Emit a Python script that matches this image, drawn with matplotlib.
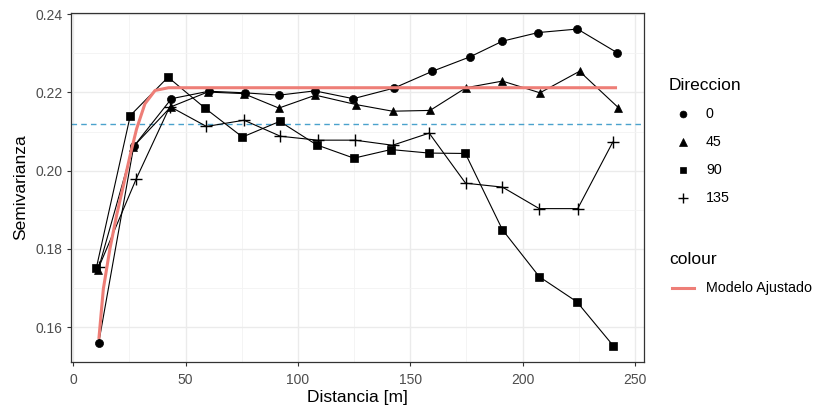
import matplotlib
matplotlib.use("Agg")
import matplotlib.pyplot as plt
from matplotlib.lines import Line2D

plt.rcParams['font.family'] = ['Liberation Sans', 'DejaVu Sans']

dist_0 = [11.3, 26.9, 43.7, 60.3, 76.3, 91.6, 107.5, 124.6, 142.7, 159.8, 176.6, 191.0, 206.9, 224.4, 242.2]
gam_0 = [0.1559, 0.2062, 0.2184, 0.2203, 0.2199, 0.2193, 0.2204, 0.2184, 0.2211, 0.2254, 0.2291, 0.2331, 0.2353, 0.2362, 0.2301]

dist_45 = [11.0, 26.5, 43.4, 59.8, 75.8, 91.5, 107.8, 125.8, 142.1, 158.8, 174.8, 191.0, 207.7, 225.3, 242.6]
gam_45 = [0.1745, 0.2060, 0.2163, 0.2201, 0.2197, 0.2160, 0.2193, 0.2169, 0.2152, 0.2154, 0.2212, 0.2229, 0.2199, 0.2254, 0.2161]

dist_90 = [10.3, 25.4, 42.2, 58.8, 75.3, 91.9, 108.3, 124.9, 141.4, 158.3, 174.5, 191.0, 207.4, 224.1, 240.4]
gam_90 = [0.1752, 0.2141, 0.2239, 0.2159, 0.2086, 0.2126, 0.2066, 0.2032, 0.2054, 0.2045, 0.2044, 0.1849, 0.1729, 0.1665, 0.1552]

dist_135 = [11.5, 28.1, 43.0, 59.3, 76.0, 92.2, 108.7, 125.3, 142.1, 158.4, 174.6, 191.0, 207.4, 224.5, 240.1]
gam_135 = [0.1755, 0.1980, 0.2164, 0.2113, 0.2129, 0.2088, 0.2078, 0.2078, 0.2065, 0.2096, 0.1968, 0.1958, 0.1903, 0.1903, 0.2073]

dist_mod = [11.4, 13.4, 16.3, 19.3, 22.3, 25.3, 28.2, 31.9, 36.4, 42.4, 242.0]
gam_mod = [0.1570, 0.1698, 0.1800, 0.1886, 0.1962, 0.2039, 0.2107, 0.2171, 0.2205, 0.2212, 0.2212]

sill_ref = 0.2120

series = [
    ("0", dist_0, gam_0, "o", 5.8),
    ("45", dist_45, gam_45, "^", 6.3),
    ("90", dist_90, gam_90, "s", 5.4),
    ("135", dist_135, gam_135, "+", 8.0),
]

W, H = 819, 412
fig = plt.figure(figsize=(W / 100, H / 100), dpi=100)
ax = fig.add_axes([71 / W, 1 - 362 / H, (644 - 71) / W, (362 - 13) / H])

for lab, d, g, m, ms in series:
    ax.plot(d, g, color="black", lw=0.8, marker=m, ms=ms,
            mew=1.0 if m == "+" else 0.5, zorder=3)

ax.plot(dist_mod, gam_mod, color="#EE7E77", lw=2.2, zorder=4,
        solid_capstyle="butt")
ax.axhline(sill_ref, color="#4AA2CC", lw=1.0, ls=(0, (4, 3)), zorder=2)

ax.set_xlim(-1.0, 254.0)
ax.set_ylim(0.1511, 0.2403)
ax.set_xticks([0, 50, 100, 150, 200, 250])
ax.set_yticks([0.16, 0.18, 0.20, 0.22, 0.24])
ax.set_yticklabels(["0.16", "0.18", "0.20", "0.22", "0.24"])
ax.set_xticks([25, 75, 125, 175, 225], minor=True)
ax.set_yticks([0.17, 0.19, 0.21, 0.23], minor=True)
ax.grid(which="major", color="#EBEBEB", lw=1.0, zorder=0)
ax.grid(which="minor", color="#F3F3F3", lw=0.6, zorder=0)
ax.set_axisbelow(True)
ax.tick_params(which="major", length=3, width=0.8, color="#333333",
               labelsize=10, labelcolor="#4D4D4D", pad=3)
ax.tick_params(axis="x", which="major", pad=5)
ax.tick_params(which="minor", length=0)
for s in ax.spines.values():
    s.set_color("#333333")
    s.set_linewidth(0.9)

ax.set_xlabel("Distancia [m]", fontsize=12.5, color="black", labelpad=2)
ax.set_ylabel("Semivarianza", fontsize=12.5, color="black", labelpad=5)

# Leyendas
def fx(px):
    return px / W

def fy(py):
    return 1 - py / H

fig.text(fx(669), fy(86), "Direccion", fontsize=12.5, va="center", ha="left")
key_y = [114, 142, 170, 198]
for (lab, d, g, m, ms), ky in zip(series, key_y):
    fig.add_artist(Line2D([fx(683)], [fy(ky)], marker=m, color="black",
                          ms=ms * 0.85, mew=1.0 if m == "+" else 0.5,
                          transform=fig.transFigure))
    fig.text(fx(706), fy(ky), lab, fontsize=10.3, va="center", ha="left")

fig.text(fx(669), fy(259), "colour", fontsize=12.5, va="center", ha="left")
fig.add_artist(Line2D([fx(672), fx(694)], [fy(288), fy(288)], color="#EE7E77",
                      lw=2.2, transform=fig.transFigure))
fig.text(fx(706), fy(288), "Modelo Ajustado", fontsize=10.3, va="center", ha="left")

fig.savefig("out.png", dpi=100)
